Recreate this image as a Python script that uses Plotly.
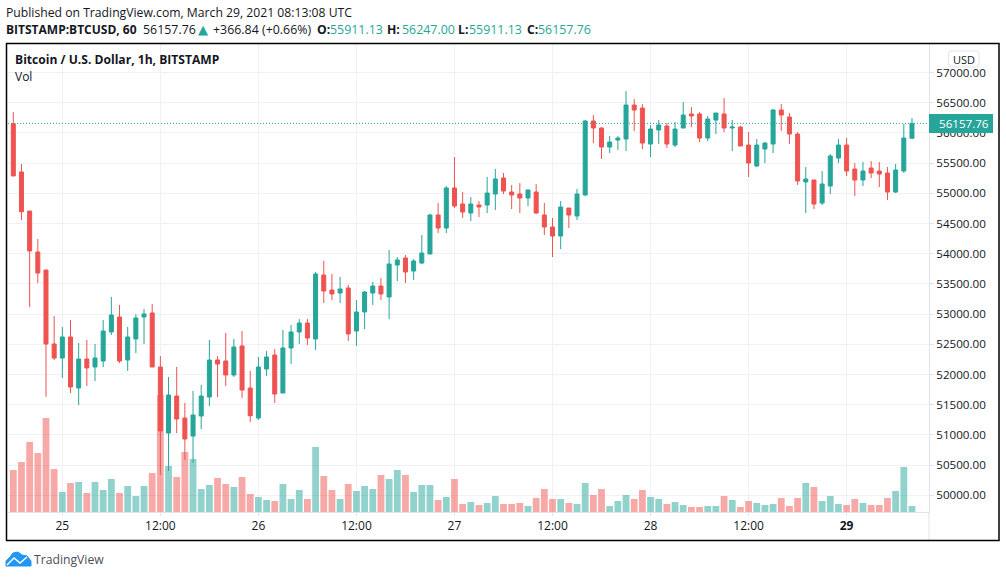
import pandas as pd
import plotly.graph_objects as go

# hourly BTCUSD candles
opens = [56152, 55353, 54706, 54028, 53730, 52505, 52273, 52621, 51777, 52256, 52124, 52223, 52704, 52952, 52240, 52588,
         52952, 53018, 52124, 51031, 51644, 51279, 50981, 51313, 51627, 52240, 52223, 51992, 52472, 51776, 51279, 52091,
         52323, 51693, 52439, 52704, 52852, 52588, 53647, 53399, 53349, 53432, 52720, 53035, 53349, 53465, 53283, 53813,
         53929, 53713, 53846, 53995, 54641, 54425, 55088, 54823, 54673, 54806, 54806, 54988, 55253, 55021, 54988, 54922,
         55021, 54641, 54442, 54293, 54756, 54624, 54972, 56197, 56081, 55766, 55882, 55899, 56461, 56412, 55816, 56048,
         56114, 55799, 56081, 56313, 56313, 55915, 56213, 56313, 56081, 56097, 55799, 55452, 55733, 55816, 56379, 56263,
         55981, 55187, 55220, 54839, 55121, 55584, 55799, 55402, 55220, 55419, 55369, 55336, 55021, 55369, 55911.13]
highs = [56346, 55485, 54706, 54243, 53730, 52969, 52786, 52902, 52521, 52571, 52505, 52902, 53283, 53150, 52787, 53002,
         53084, 53167, 52306, 51959, 52124, 51528, 51727, 51826, 52571, 52306, 52687, 52588, 52720, 52058, 52290, 52389,
         52422, 52737, 52819, 52918, 52918, 53697, 53879, 53664, 53614, 53481, 53233, 53382, 53531, 53597, 54061, 53945,
         53978, 53912, 54309, 54657, 54839, 55121, 55601, 55021, 54938, 54872, 55270, 55402, 55336, 55137, 55170, 55055,
         55154, 54839, 54591, 54872, 54756, 55071, 56213, 56296, 56097, 55948, 55948, 56693, 56560, 56478, 56130, 56213,
         56164, 56180, 56511, 56428, 56346, 56280, 56329, 56577, 56213, 56114, 56015, 55899, 55849, 56395, 56478, 56329,
         56015, 55435, 55220, 55369, 55650, 55899, 55915, 55501, 55518, 55534, 55518, 55435, 55485, 56147, 56247]
lows = [55287, 54558, 53117, 53515, 51632, 52240, 51942, 51693, 51495, 51810, 51892, 52124, 52654, 52190, 52058, 52355,
        52505, 52124, 50336, 50402, 51031, 50584, 50535, 51097, 51478, 51627, 51810, 51958, 51611, 51213, 51246, 51975,
        51528, 51693, 52174, 52505, 52488, 52405, 53184, 53233, 53184, 52555, 52472, 52753, 53150, 53233, 52918, 53548,
        53515, 53564, 53829, 53995, 54342, 54342, 54756, 54591, 54541, 54607, 54674, 54723, 54988, 54740, 54674, 54790,
        54657, 54309, 53945, 54077, 54425, 54558, 54955, 55832, 55568, 55667, 55717, 55700, 56031, 55733, 55601, 55816,
        55750, 55766, 56081, 56097, 55849, 55865, 55981, 56015, 55700, 55783, 55270, 55435, 55501, 55667, 56031, 55816,
        55137, 54674, 54740, 54806, 54988, 55501, 55286, 54955, 55121, 55253, 55104, 54889, 55005, 55336, 55911.13]
closes = [55287, 54695, 54045, 53680, 52505, 52273, 52621, 51793, 52256, 52108, 52273, 52720, 52985, 52223, 52621, 52936,
          53002, 52124, 51064, 51660, 51263, 50932, 51329, 51644, 52240, 52174, 51992, 52455, 51743, 51318, 52124, 52290,
          51677, 52439, 52704, 52852, 52604, 53664, 53382, 53333, 53415, 52671, 53035, 53366, 53465, 53333, 53829, 53896,
          53697, 53879, 54011, 54641, 54425, 55088, 54790, 54690, 54823, 54773, 55005, 55237, 55038, 54972, 54922, 55055,
          54674, 54442, 54293, 54773, 54641, 54988, 56197, 56081, 55766, 55849, 55915, 56461, 56379, 55832, 56064, 56130,
          55816, 56064, 56296, 56280, 55915, 56230, 56329, 56081, 56097, 55783, 55501, 55799, 55832, 56379, 56296, 55981,
          55204, 55237, 54823, 55154, 55617, 55799, 55369, 55220, 55369, 55336, 55319, 55021, 55386, 55915, 56157.76]
# relative volume, the chart shows no scale for it
volumes = [42, 50, 70, 59, 94, 43, 20, 29, 30, 19, 30, 22, 33, 19, 26, 16, 26, 39, 117, 46, 35, 60, 53, 23, 27, 34, 28, 25,
           35, 18, 15, 12, 11, 28, 13, 22, 13, 65, 36, 22, 13, 28, 21, 26, 23, 37, 33, 42, 37, 20, 27, 27, 12, 15, 33, 8,
           10, 7, 9, 16, 8, 8, 9, 6, 14, 23, 13, 13, 9, 8, 29, 17, 23, 6, 11, 17, 13, 22, 15, 13, 8, 10, 7, 5, 5, 6, 6, 16,
           12, 5, 11, 9, 7, 8, 14, 6, 14, 29, 25, 11, 16, 8, 7, 13, 9, 7, 7, 14, 21, 45, 6]
tick_times = ['2021-03-25 00:00', '2021-03-25 12:00', '2021-03-26 00:00', '2021-03-26 12:00', '2021-03-27 00:00',
              '2021-03-27 12:00', '2021-03-28 00:00', '2021-03-28 12:00', '2021-03-29 00:00']
tick_labels = ['25', '12:00', '26', '12:00', '27', '12:00', '28', '12:00', '<b>29</b>']
last_price = 56157.76

UP = '#26a69a'
DOWN = '#ef5350'
TEXT = '#131722'
W, H = 1006, 577
LEFT, RIGHT, TOP, BOTTOM = 8, 929, 44, 512
FONT = 'Open Sans'


def px(x):
    return (x - LEFT) / (RIGHT - LEFT)


def py(y):
    return (BOTTOM - y) / (BOTTOM - TOP)


def text(x, y, s, size=12, color=TEXT, anchor='left', family=FONT):
    fig.add_annotation(x=px(x), y=py(y), xref='paper', yref='paper', text=s, showarrow=False, xanchor=anchor,
                       yanchor='middle', font=dict(family=family, size=size, color=color), borderpad=0, borderwidth=0)


times = pd.date_range('2021-03-24 18:00', periods=len(opens), freq='h')
vol_colors = ['rgba(38,166,154,0.5)' if c >= o else 'rgba(239,83,80,0.5)' for o, c in zip(opens, closes)]

fig = go.Figure()
fig.add_trace(go.Bar(x=times, y=volumes, marker=dict(color=vol_colors, line_width=0), width=3.0e6, yaxis='y', name='Vol'))
fig.add_trace(go.Candlestick(x=times, open=opens, high=highs, low=lows, close=closes, yaxis='y2', name='BTCUSD',
                             whiskerwidth=0,
                             increasing=dict(line=dict(color=UP, width=1), fillcolor=UP),
                             decreasing=dict(line=dict(color=DOWN, width=1), fillcolor=DOWN)))

fig.update_layout(
    width=W, height=H, autosize=False, showlegend=False,
    margin=dict(l=LEFT, r=W - RIGHT, t=TOP, b=H - BOTTOM, pad=0),
    paper_bgcolor='white', plot_bgcolor='white',
    font=dict(family=FONT, size=12, color=TEXT),
    xaxis=dict(type='date', range=['2021-03-24 17:21', '2021-03-29 10:05'], rangeslider_visible=False,
               tickmode='array', tickvals=tick_times, ticktext=tick_labels, tickangle=0,
               showgrid=True, gridcolor='#f0f1f4', gridwidth=1, ticks='outside', ticklen=3, tickcolor='#e0e3eb',
               showline=True, linecolor='#e0e3eb', linewidth=1, zeroline=False, tickfont=dict(size=12, color=TEXT)),
    yaxis=dict(range=[0, BOTTOM - TOP], visible=False, fixedrange=True),
    yaxis2=dict(range=[49723.5, 57472], overlaying='y', side='right', tick0=50000, dtick=500, tickformat='.2f',
                showgrid=True, gridcolor='#f0f1f4', gridwidth=1, ticks='outside', ticklen=4, tickcolor='#e0e3eb',
                showline=True, linecolor='#e0e3eb', linewidth=1, zeroline=False, tickfont=dict(size=11.6, color=TEXT)),
)

# last price line and its label
fig.add_shape(type='line', xref='paper', x0=0, x1=1, yref='y2', y0=last_price, y1=last_price,
              line=dict(color=UP, width=1, dash='1px,2px'), layer='above')
fig.add_shape(type='rect', xref='paper', x0=1, x1=px(993), yref='paper', y0=py(133), y1=py(114),
              fillcolor=UP, line_width=0, layer='above')
text(963.5, 123.5, '56157.76', size=11.6, color='white', anchor='center')

# time axis continues the price axis line down to the frame
fig.add_shape(type='line', xref='paper', yref='paper', x0=1, x1=1, y0=0, y1=py(540), line=dict(color='#e0e3eb', width=1))

# USD button
x0, x1, y0, y1, r = px(948.5), px(979), py(51), py(67), 3
rx, ry = r / (RIGHT - LEFT), r / (BOTTOM - TOP)
fig.add_shape(type='path', xref='paper', yref='paper', layer='above', fillcolor='white',
              line=dict(color='#e0e3eb', width=1),
              path=f'M {x0 + rx} {y0} L {x1 - rx} {y0} Q {x1} {y0} {x1} {y0 - ry} L {x1} {y1 + ry} Q {x1} {y1} {x1 - rx} {y1} '
                   f'L {x0 + rx} {y1} Q {x0} {y1} {x0} {y1 + ry} L {x0} {y0 - ry} Q {x0} {y0} {x0 + rx} {y0} Z')
text(963.5, 59, 'USD', size=11, anchor='center')

# outer frame
fig.add_shape(type='rect', xref='paper', yref='paper', x0=px(6.5), x1=px(999), y0=py(43.5), y1=py(540.5),
              line=dict(color='black', width=1.5), layer='above')

# logo: cloud with a white zigzag
pts = [(6, 566), (6, 561), (10, 557), (13, 553), (18, 552), (22, 555), (27, 556), (31, 561), (31, 566)]
cloud = 'M ' + ' L '.join(f'{px(a)} {py(b)}' for a, b in pts) + ' Z'
fig.add_shape(type='path', xref='paper', yref='paper', path=cloud, fillcolor='#2196f3', line=dict(color='#2196f3', width=1))
zig = [(7, 565), (14, 558), (20, 563), (27, 557)]
fig.add_shape(type='path', xref='paper', yref='paper', path='M ' + ' L '.join(f'{px(a)} {py(b)}' for a, b in zig),
              line=dict(color='white', width=1.5))
text(34, 559, 'TradingView', size=12.2, color='#4a4f5c')

# header texts
text(5.5, 12, 'Published on TradingView.com, March 29, 2021 08:13:08 UTC', size=12.2)
text(5.5, 29.5, '<b>BITSTAMP:BTCUSD, 60</b>', size=12)
text(143, 29.5, '56157.76', size=12.4)
text(198, 29.5, '▲', size=13, color=UP, family='DejaVu Sans')
text(213, 29.5, '+366.84 (+0.66%)', size=12.4)
text(316.5, 29.5, '<b>O:</b>', size=12.2)
text(330, 29.5, '55911.13', size=12.4, color=UP)
text(387, 29.5, '<b>H:</b>', size=12.2)
text(401.5, 29.5, '56247.00', size=12.4, color=UP)
text(458, 29.5, '<b>L:</b>', size=12.2)
text(469, 29.5, '55911.13', size=12.4, color=UP)
text(526.5, 29.5, '<b>C:</b>', size=12.2)
text(538, 29.5, '56157.76', size=12.4, color=UP)
text(14.5, 60, '<b>Bitcoin / U.S. Dollar, 1h, BITSTAMP</b>', size=12.1)
text(14.5, 77, 'Vol', size=12)

fig.write_html("out.html", post_script="document.body.style.margin='0';", config=dict(displayModeBar=False))
